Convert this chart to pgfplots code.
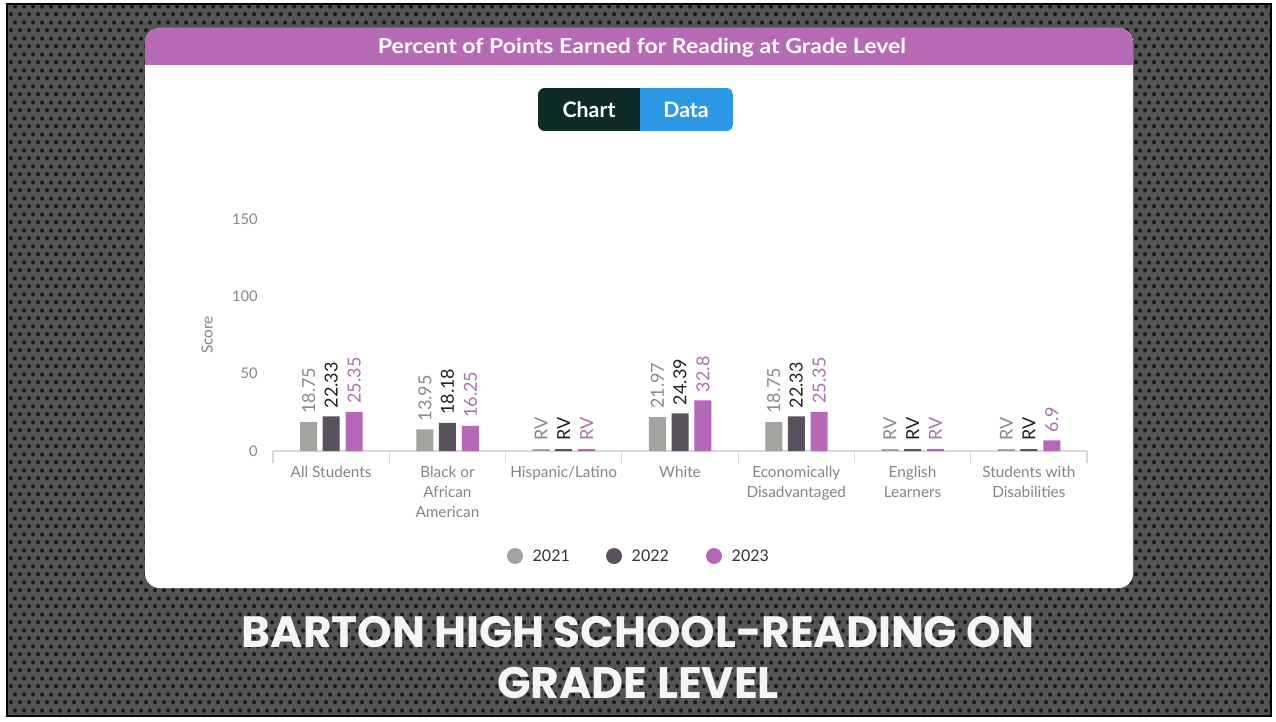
\documentclass[border=0pt]{standalone}
\usepackage{pgfplots}
\pgfplotsset{compat=1.18}
\usepackage{fontspec}
\setmainfont{Lato}
\newfontfamily\titlefont{Poppins}
\usetikzlibrary{patterns.meta}
\definecolor{bgdark}{HTML}{545456}
\definecolor{cardpurple}{HTML}{B76AB6}
\definecolor{c21}{HTML}{A3A3A0}
\definecolor{c22}{HTML}{5A525E}
\definecolor{c23}{HTML}{B767B9}
\definecolor{btndark}{HTML}{0E2B27}
\definecolor{btnblue}{HTML}{2D98E6}
\definecolor{ticklab}{HTML}{858585}
\definecolor{lab21}{HTML}{8A8A8A}
\definecolor{lab22}{HTML}{222222}
\definecolor{lab23}{HTML}{A873AA}
\tikzdeclarepattern{
  name=hexdots,
  type=uncolored,
  bounding box={(0pt,0pt) and (6.75pt,11.7pt)},
  tile size={(6.75pt,11.7pt)},
  code={
    \fill (1.69pt,2.92pt) circle (1.65pt);
    \fill (5.06pt,8.77pt) circle (1.65pt);
  }
}
\begin{document}
\begin{tikzpicture}[x=0.75pt,y=0.75pt]
% slide background
\fill[white] (0,0) rectangle (1276,721);
\fill[bgdark] (7,5) rectangle (1271,717);
\fill[pattern=hexdots, pattern color=black!90] (7,5) rectangle (1271,717);
\draw[black, line width=1pt] (7,5) rectangle (1271,717);
% card
\fill[white, rounded corners=11pt] (145,133) rectangle (1133,693);
\begin{scope}
  \clip[rounded corners=11pt] (145,133) rectangle (1133,693);
  \fill[cardpurple] (145,656) rectangle (1133,693);
\end{scope}
\node[text=white, font=\bfseries, inner sep=0pt] at (642,673)
  {\resizebox{396pt}{11.5pt}{Percent of Points Earned for Reading at Grade Level}};
% toggle buttons
\begin{scope}
  \clip[rounded corners=5pt] (538,590) rectangle (733,633);
  \fill[btndark] (538,590) rectangle (640,633);
  \fill[btnblue] (640,590) rectangle (733,633);
\end{scope}
\node[text=white, font=\bfseries\fontsize{16}{16}\selectfont] at (589,611.5) {Chart};
\node[text=white, font=\bfseries\fontsize{16}{16}\selectfont] at (686,611.5) {Data};
% legend
\fill[c21] (515,165) circle (8);
\node[anchor=west, text=black!80, font=\fontsize{12}{12}\selectfont] at (528,165) {2021};
\fill[c22] (614,165) circle (8);
\node[anchor=west, text=black!80, font=\fontsize{12}{12}\selectfont] at (627,165) {2022};
\fill[c23] (714,165) circle (8);
\node[anchor=west, text=black!80, font=\fontsize{12}{12}\selectfont] at (727,165) {2023};
% big slide title
\node[text=gray!8, font=\titlefont\bfseries, inner sep=0pt] at (638,89)
  {\resizebox{594pt}{!}{BARTON HIGH SCHOOL-READING ON}};
\node[text=gray!8, font=\titlefont\bfseries, inner sep=0pt] at (638,38)
  {\resizebox{211.5pt}{!}{GRADE LEVEL}};
% chart
\begin{axis}[
  at={(204.75pt,202.5pt)}, anchor=south west,
  scale only axis, width=610.5pt, height=174pt,
  xmin=-0.5, xmax=6.5, ymin=0, ymax=150,
  clip=false,
  ybar, bar width=12.75pt,
  axis x line*=bottom, axis y line*=left,
  x axis line style={draw=gray!30, line width=0.8pt, -},
  y axis line style={draw=none},
  xtick={0,...,6},
  xticklabels={{All Students},{Black or\\African\\American},{Hispanic/Latino},{White},{Economically\\Disadvantaged},{English\\Learners},{Students with\\Disabilities}},
  minor xtick={-0.5,0.5,...,6.5},
  tick align=outside,
  major tick length=0pt, minor tick length=9pt,
  minor x tick style={draw=gray!30, line width=0.8pt},
  ytick={0,50,100,150}, ytick style={draw=none},
  /pgf/number format/assume math mode=true,
  xticklabel style={font=\fontsize{11.5}{15}\selectfont, text=ticklab, align=center, yshift=-8pt},
  yticklabel style={font=\fontsize{11}{11}\selectfont, text=ticklab, xshift=-8pt},
  ylabel={Score},
  ylabel style={at={(axis description cs:-0.081,0.5)}, anchor=center, font=\fontsize{11.5}{11.5}\selectfont, text=ticklab},
  point meta=explicit symbolic,
  nodes near coords,
  nodes near coords style={rotate=90, anchor=west, inner xsep=6pt, font=\fontsize{13.5}{13.5}\selectfont},
]
\addplot[fill=c21, draw=none, bar shift=-16.9pt, nodes near coords style={text=lab21}]
  coordinates {(0,18.75) [18.75] (1,13.95) [13.95] (2,1.2) [RV] (3,21.97) [21.97] (4,18.75) [18.75] (5,1.2) [RV] (6,1.2) [RV]};
\addplot[fill=c22, draw=none, bar shift=0pt, nodes near coords style={text=lab22}]
  coordinates {(0,22.33) [22.33] (1,18.18) [18.18] (2,1.2) [RV] (3,24.39) [24.39] (4,22.33) [22.33] (5,1.2) [RV] (6,1.2) [RV]};
\addplot[fill=c23, draw=none, bar shift=17.2pt, nodes near coords style={text=lab23}]
  coordinates {(0,25.35) [25.35] (1,16.25) [16.25] (2,1.2) [RV] (3,32.8) [32.8] (4,25.35) [25.35] (5,1.2) [RV] (6,6.9) [6.9]};
\end{axis}
\end{tikzpicture}
\end{document}
